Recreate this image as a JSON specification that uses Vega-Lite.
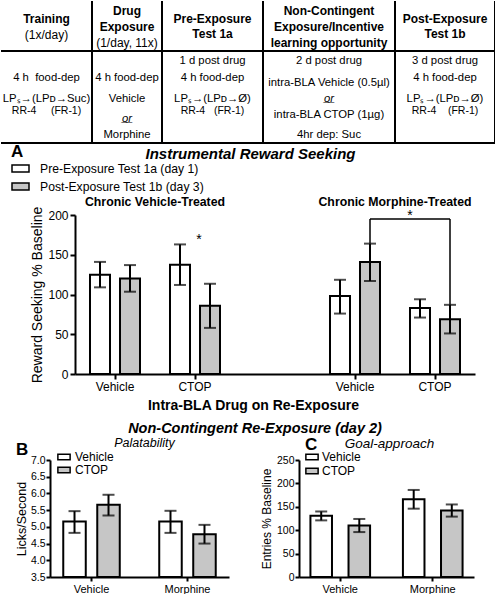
{
"$schema": "https://vega.github.io/schema/vega-lite/v6.json",
"padding": 0,
"spacing": 0,
"resolve": {"scale": {"fill": "independent", "xOffset": "independent"}, "legend": {"fill": "independent"}},
"config": {
  "font": "Liberation Sans",
  "view": {"stroke": null},
  "axis": {"grid": false, "domainColor": "black", "tickColor": "black", "labelColor": "black", "titleColor": "black", "domainWidth": 2, "tickWidth": 2, "titleFontWeight": "normal", "labelOverlap": false, "labelBound": false, "labelFont": "Liberation Sans", "titleFont": "Liberation Sans"},
  "legend": {"labelFont": "Liberation Sans", "titleFont": "Liberation Sans", "labelColor": "black", "titleColor": "black", "padding": 0, "labelLimit": 300},
  "title": {"font": "Liberation Sans", "color": "black"},
  "text": {"color": "black", "font": "Liberation Sans"},
  "rule": {"color": "black"},
  "tick": {"color": "black"},
  "style": {
    "thead": {"fontSize": 12, "fontWeight": "bold"},
    "tnote": {"fontSize": 12},
    "tbody": {"fontSize": 11.3},
    "tcode": {"fontSize": 10.5},
    "tor": {"fontSize": 11.3, "fontStyle": "italic"}
  }
},
"datasets": {
  "table": [
    {"col": "Training", "kind": "head", "line": 1.5, "text": "Training"},
    {"col": "Training", "kind": "note", "line": 2.5, "text": "(1x/day)"},
    {"col": "Training", "kind": "body", "line": 5.1, "text": "4 h\u00a0\u00a0food-dep"},
    {"col": "Training", "kind": "body", "line": 6.4, "text": "LP\u209b\u2192(LP\u1d05\u2192Suc)"},
    {"col": "Training", "kind": "code", "line": 7.15, "text": "RR-4\u00a0\u00a0\u00a0\u00a0\u00a0(FR-1)"},
    {"col": "Drug", "kind": "head", "line": 1, "text": "Drug"},
    {"col": "Drug", "kind": "head", "line": 2, "text": "Exposure"},
    {"col": "Drug", "kind": "note", "line": 3, "text": "(1/day, 11x)"},
    {"col": "Drug", "kind": "body", "line": 5.1, "text": "4 h food-dep"},
    {"col": "Drug", "kind": "body", "line": 6.4, "text": "Vehicle"},
    {"col": "Drug", "kind": "or", "line": 7.6, "text": "o\u0332r\u0332"},
    {"col": "Drug", "kind": "body", "line": 8.6, "text": "Morphine"},
    {"col": "Pre", "kind": "head", "line": 1.5, "text": "Pre-Exposure"},
    {"col": "Pre", "kind": "head", "line": 2.45, "text": "Test 1a"},
    {"col": "Pre", "kind": "body", "line": 4.08, "text": "1 d post drug"},
    {"col": "Pre", "kind": "body", "line": 5.1, "text": "4 h food-dep"},
    {"col": "Pre", "kind": "body", "line": 6.4, "text": "LP\u209b\u2192(LP\u1d05\u2192\u00d8)"},
    {"col": "Pre", "kind": "code", "line": 7.15, "text": "RR-4\u00a0\u00a0\u00a0(FR-1)"},
    {"col": "NonCont", "kind": "head", "line": 1, "text": "Non-Contingent"},
    {"col": "NonCont", "kind": "head", "line": 2, "text": "Exposure/Incentive"},
    {"col": "NonCont", "kind": "head", "line": 3, "text": "learning opportunity"},
    {"col": "NonCont", "kind": "body", "line": 4.08, "text": "2 d post drug"},
    {"col": "NonCont", "kind": "body", "line": 5.4, "text": "intra-BLA Vehicle (0.5\u00b5l)"},
    {"col": "NonCont", "kind": "or", "line": 6.4, "text": "o\u0332r\u0332"},
    {"col": "NonCont", "kind": "body", "line": 7.4, "text": "intra-BLA CTOP (1\u00b5g)"},
    {"col": "NonCont", "kind": "body", "line": 8.6, "text": "4hr dep: Suc"},
    {"col": "Post", "kind": "head", "line": 1.5, "text": "Post-Exposure"},
    {"col": "Post", "kind": "head", "line": 2.45, "text": "Test 1b"},
    {"col": "Post", "kind": "body", "line": 4.08, "text": "3 d post drug"},
    {"col": "Post", "kind": "body", "line": 5.1, "text": "4 h food-dep"},
    {"col": "Post", "kind": "body", "line": 6.4, "text": "LP\u209b\u2192(LP\u1d05\u2192\u00d8)"},
    {"col": "Post", "kind": "code", "line": 7.1, "text": "RR-4\u00a0\u00a0\u00a0\u00a0(FR-1)"}
  ],
  "reward": [
    {"slot": "Vehicle (chronic vehicle)", "test": "Pre-Exposure Test 1a (day 1)", "mean": 125, "lo": 109, "hi": 141},
    {"slot": "Vehicle (chronic vehicle)", "test": "Post-Exposure Test 1b (day 3)", "mean": 120, "lo": 103.5, "hi": 137},
    {"slot": "CTOP (chronic vehicle)", "test": "Pre-Exposure Test 1a (day 1)", "mean": 137.5, "lo": 112, "hi": 163},
    {"slot": "CTOP (chronic vehicle)", "test": "Post-Exposure Test 1b (day 3)", "mean": 86, "lo": 58, "hi": 113.5},
    {"slot": "Vehicle (chronic morphine)", "test": "Pre-Exposure Test 1a (day 1)", "mean": 98, "lo": 76, "hi": 118.5},
    {"slot": "Vehicle (chronic morphine)", "test": "Post-Exposure Test 1b (day 3)", "mean": 141, "lo": 117, "hi": 164},
    {"slot": "CTOP (chronic morphine)", "test": "Pre-Exposure Test 1a (day 1)", "mean": 83, "lo": 71, "hi": 94},
    {"slot": "CTOP (chronic morphine)", "test": "Post-Exposure Test 1b (day 3)", "mean": 69, "lo": 51, "hi": 87}
  ],
  "lick": [
    {"chronic": "Vehicle", "infusion": "Vehicle", "mean": 5.16, "lo": 4.82, "hi": 5.47},
    {"chronic": "Vehicle", "infusion": "CTOP", "mean": 5.66, "lo": 5.34, "hi": 5.96},
    {"chronic": "Morphine", "infusion": "Vehicle", "mean": 5.16, "lo": 4.82, "hi": 5.48},
    {"chronic": "Morphine", "infusion": "CTOP", "mean": 4.78, "lo": 4.5, "hi": 5.06}
  ],
  "goal": [
    {"chronic": "Vehicle", "infusion": "Vehicle", "mean": 131, "lo": 121, "hi": 140},
    {"chronic": "Vehicle", "infusion": "CTOP", "mean": 110, "lo": 96, "hi": 124},
    {"chronic": "Morphine", "infusion": "Vehicle", "mean": 166, "lo": 146, "hi": 186},
    {"chronic": "Morphine", "infusion": "CTOP", "mean": 142, "lo": 129, "hi": 155}
  ]
},
"vconcat": [
  {
    "hconcat": [
      {"width": 91, "height": 142, "data": {"name": "table"}, "transform": [{"filter": "datum.col == 'Training'"}],
       "layer": [
        {"transform": [{"filter": "datum.kind == 'head'"}], "mark": {"type": "text", "style": "thead"}, "encoding": {"y": {"field": "line", "type": "quantitative", "scale": {"domain": [0.42, 9.08], "reverse": true, "nice": false, "zero": false}, "axis": null}, "text": {"field": "text"}}},
        {"transform": [{"filter": "datum.kind == 'note'"}], "mark": {"type": "text", "style": "tnote"}, "encoding": {"y": {"field": "line", "type": "quantitative", "axis": null}, "text": {"field": "text"}}},
        {"transform": [{"filter": "datum.kind == 'body'"}], "mark": {"type": "text", "style": "tbody"}, "encoding": {"y": {"field": "line", "type": "quantitative", "axis": null}, "text": {"field": "text"}}},
        {"transform": [{"filter": "datum.kind == 'code'"}], "mark": {"type": "text", "style": "tcode"}, "encoding": {"y": {"field": "line", "type": "quantitative", "axis": null}, "text": {"field": "text"}}},
        {"transform": [{"filter": "datum.kind == 'or'"}], "mark": {"type": "text", "style": "tor"}, "encoding": {"y": {"field": "line", "type": "quantitative", "axis": null}, "text": {"field": "text"}}},
        {"transform": [{"aggregate": [{"op": "count", "as": "n"}]}], "mark": {"type": "rule", "strokeWidth": 2}, "encoding": {"y": {"datum": 3.47, "axis": null}}},
        {"transform": [{"aggregate": [{"op": "count", "as": "n"}]}], "mark": {"type": "rule", "strokeWidth": 2}, "encoding": {"y": {"datum": 9.08, "axis": null}}},
        {"transform": [{"aggregate": [{"op": "count", "as": "n"}]}], "mark": {"type": "rule", "strokeWidth": 2}, "encoding": {"x": {"datum": 1, "type": "quantitative", "scale": {"domain": [0, 1]}, "axis": null}, "y": {"datum": 0.42, "axis": null}, "y2": {"datum": 9.08}}}
       ]},
      {"width": 70, "height": 142, "data": {"name": "table"}, "transform": [{"filter": "datum.col == 'Drug'"}],
       "layer": [
        {"transform": [{"filter": "datum.kind == 'head'"}], "mark": {"type": "text", "style": "thead"}, "encoding": {"y": {"field": "line", "type": "quantitative", "scale": {"domain": [0.42, 9.08], "reverse": true, "nice": false, "zero": false}, "axis": null}, "text": {"field": "text"}}},
        {"transform": [{"filter": "datum.kind == 'note'"}], "mark": {"type": "text", "style": "tnote"}, "encoding": {"y": {"field": "line", "type": "quantitative", "axis": null}, "text": {"field": "text"}}},
        {"transform": [{"filter": "datum.kind == 'body'"}], "mark": {"type": "text", "style": "tbody"}, "encoding": {"y": {"field": "line", "type": "quantitative", "axis": null}, "text": {"field": "text"}}},
        {"transform": [{"filter": "datum.kind == 'code'"}], "mark": {"type": "text", "style": "tcode"}, "encoding": {"y": {"field": "line", "type": "quantitative", "axis": null}, "text": {"field": "text"}}},
        {"transform": [{"filter": "datum.kind == 'or'"}], "mark": {"type": "text", "style": "tor"}, "encoding": {"y": {"field": "line", "type": "quantitative", "axis": null}, "text": {"field": "text"}}},
        {"transform": [{"aggregate": [{"op": "count", "as": "n"}]}], "mark": {"type": "rule", "strokeWidth": 2}, "encoding": {"y": {"datum": 3.47, "axis": null}}},
        {"transform": [{"aggregate": [{"op": "count", "as": "n"}]}], "mark": {"type": "rule", "strokeWidth": 2}, "encoding": {"y": {"datum": 9.08, "axis": null}}},
        {"transform": [{"aggregate": [{"op": "count", "as": "n"}]}], "mark": {"type": "rule", "strokeWidth": 2}, "encoding": {"x": {"datum": 1, "type": "quantitative", "scale": {"domain": [0, 1]}, "axis": null}, "y": {"datum": 0.42, "axis": null}, "y2": {"datum": 9.08}}}
       ]},
      {"width": 101, "height": 142, "data": {"name": "table"}, "transform": [{"filter": "datum.col == 'Pre'"}],
       "layer": [
        {"transform": [{"filter": "datum.kind == 'head'"}], "mark": {"type": "text", "style": "thead"}, "encoding": {"y": {"field": "line", "type": "quantitative", "scale": {"domain": [0.42, 9.08], "reverse": true, "nice": false, "zero": false}, "axis": null}, "text": {"field": "text"}}},
        {"transform": [{"filter": "datum.kind == 'note'"}], "mark": {"type": "text", "style": "tnote"}, "encoding": {"y": {"field": "line", "type": "quantitative", "axis": null}, "text": {"field": "text"}}},
        {"transform": [{"filter": "datum.kind == 'body'"}], "mark": {"type": "text", "style": "tbody"}, "encoding": {"y": {"field": "line", "type": "quantitative", "axis": null}, "text": {"field": "text"}}},
        {"transform": [{"filter": "datum.kind == 'code'"}], "mark": {"type": "text", "style": "tcode"}, "encoding": {"y": {"field": "line", "type": "quantitative", "axis": null}, "text": {"field": "text"}}},
        {"transform": [{"filter": "datum.kind == 'or'"}], "mark": {"type": "text", "style": "tor"}, "encoding": {"y": {"field": "line", "type": "quantitative", "axis": null}, "text": {"field": "text"}}},
        {"transform": [{"aggregate": [{"op": "count", "as": "n"}]}], "mark": {"type": "rule", "strokeWidth": 2}, "encoding": {"y": {"datum": 3.47, "axis": null}}},
        {"transform": [{"aggregate": [{"op": "count", "as": "n"}]}], "mark": {"type": "rule", "strokeWidth": 2}, "encoding": {"y": {"datum": 9.08, "axis": null}}},
        {"transform": [{"aggregate": [{"op": "count", "as": "n"}]}], "mark": {"type": "rule", "strokeWidth": 2}, "encoding": {"x": {"datum": 1, "type": "quantitative", "scale": {"domain": [0, 1]}, "axis": null}, "y": {"datum": 0.42, "axis": null}, "y2": {"datum": 9.08}}}
       ]},
      {"width": 132, "height": 142, "data": {"name": "table"}, "transform": [{"filter": "datum.col == 'NonCont'"}],
       "layer": [
        {"transform": [{"filter": "datum.kind == 'head'"}], "mark": {"type": "text", "style": "thead"}, "encoding": {"y": {"field": "line", "type": "quantitative", "scale": {"domain": [0.42, 9.08], "reverse": true, "nice": false, "zero": false}, "axis": null}, "text": {"field": "text"}}},
        {"transform": [{"filter": "datum.kind == 'note'"}], "mark": {"type": "text", "style": "tnote"}, "encoding": {"y": {"field": "line", "type": "quantitative", "axis": null}, "text": {"field": "text"}}},
        {"transform": [{"filter": "datum.kind == 'body'"}], "mark": {"type": "text", "style": "tbody"}, "encoding": {"y": {"field": "line", "type": "quantitative", "axis": null}, "text": {"field": "text"}}},
        {"transform": [{"filter": "datum.kind == 'code'"}], "mark": {"type": "text", "style": "tcode"}, "encoding": {"y": {"field": "line", "type": "quantitative", "axis": null}, "text": {"field": "text"}}},
        {"transform": [{"filter": "datum.kind == 'or'"}], "mark": {"type": "text", "style": "tor"}, "encoding": {"y": {"field": "line", "type": "quantitative", "axis": null}, "text": {"field": "text"}}},
        {"transform": [{"aggregate": [{"op": "count", "as": "n"}]}], "mark": {"type": "rule", "strokeWidth": 2}, "encoding": {"y": {"datum": 3.47, "axis": null}}},
        {"transform": [{"aggregate": [{"op": "count", "as": "n"}]}], "mark": {"type": "rule", "strokeWidth": 2}, "encoding": {"y": {"datum": 9.08, "axis": null}}},
        {"transform": [{"aggregate": [{"op": "count", "as": "n"}]}], "mark": {"type": "rule", "strokeWidth": 2}, "encoding": {"x": {"datum": 1, "type": "quantitative", "scale": {"domain": [0, 1]}, "axis": null}, "y": {"datum": 0.42, "axis": null}, "y2": {"datum": 9.08}}}
       ]},
      {"width": 100, "height": 142, "data": {"name": "table"}, "transform": [{"filter": "datum.col == 'Post'"}],
       "layer": [
        {"transform": [{"filter": "datum.kind == 'head'"}], "mark": {"type": "text", "style": "thead"}, "encoding": {"y": {"field": "line", "type": "quantitative", "scale": {"domain": [0.42, 9.08], "reverse": true, "nice": false, "zero": false}, "axis": null}, "text": {"field": "text"}}},
        {"transform": [{"filter": "datum.kind == 'note'"}], "mark": {"type": "text", "style": "tnote"}, "encoding": {"y": {"field": "line", "type": "quantitative", "axis": null}, "text": {"field": "text"}}},
        {"transform": [{"filter": "datum.kind == 'body'"}], "mark": {"type": "text", "style": "tbody"}, "encoding": {"y": {"field": "line", "type": "quantitative", "axis": null}, "text": {"field": "text"}}},
        {"transform": [{"filter": "datum.kind == 'code'"}], "mark": {"type": "text", "style": "tcode"}, "encoding": {"y": {"field": "line", "type": "quantitative", "axis": null}, "text": {"field": "text"}}},
        {"transform": [{"filter": "datum.kind == 'or'"}], "mark": {"type": "text", "style": "tor"}, "encoding": {"y": {"field": "line", "type": "quantitative", "axis": null}, "text": {"field": "text"}}},
        {"transform": [{"aggregate": [{"op": "count", "as": "n"}]}], "mark": {"type": "rule", "strokeWidth": 2}, "encoding": {"y": {"datum": 3.47, "axis": null}}},
        {"transform": [{"aggregate": [{"op": "count", "as": "n"}]}], "mark": {"type": "rule", "strokeWidth": 2}, "encoding": {"y": {"datum": 9.08, "axis": null}}},
        {"transform": [{"aggregate": [{"op": "count", "as": "n"}]}], "mark": {"type": "rule", "strokeWidth": 2}, "encoding": {"x": {"datum": 1, "type": "quantitative", "scale": {"domain": [0, 1]}, "axis": null}, "y": {"datum": 0.42, "axis": null}, "y2": {"datum": 9.08}}}
       ]}
    ],
    "spacing": 0,
    "bounds": "flush"
  },
  {
    "hconcat": [
      {"width": 74, "height": 10, "data": {"values": []}, "mark": "point"},
      {
        "width": 400, "height": 159,
        "data": {"name": "reward"},
        "title": {"text": "Non-Contingent Re-Exposure (day 2)", "orient": "bottom", "anchor": "middle", "fontSize": 14.5, "fontWeight": "bold", "fontStyle": "italic", "dx": -20, "offset": 10},
        "resolve": {"axis": {"x": "independent"}},
        "layer": [
          {"mark": {"type": "bar", "stroke": "black", "strokeWidth": 2},
           "encoding": {
             "x": {"field": "slot", "type": "nominal", "scale": {"domain": ["Vehicle (chronic vehicle)", "CTOP (chronic vehicle)", "-", "Vehicle (chronic morphine)", "CTOP (chronic morphine)"], "paddingInner": 0, "paddingOuter": 0},
                   "axis": {"values": ["Vehicle (chronic vehicle)", "CTOP (chronic vehicle)", "Vehicle (chronic morphine)", "CTOP (chronic morphine)"], "labelExpr": "split(datum.label, ' (')[0]", "labelAngle": 0, "labelFontSize": 12, "tickSize": 5, "labelPadding": 2, "title": "Intra-BLA Drug on Re-Exposure", "titleFontSize": 14, "titleFontWeight": "bold", "titleX": 178, "titlePadding": 6}},
             "xOffset": {"field": "test", "type": "nominal", "scale": {"domain": ["Pre-Exposure Test 1a (day 1)", "Post-Exposure Test 1b (day 3)"], "paddingInner": 0.3333, "paddingOuter": 0.5}},
             "y": {"field": "mean", "type": "quantitative", "scale": {"domain": [0, 200], "nice": false}, "axis": {"tickCount": 5, "labelOverlap": false, "title": "Reward Seeking % Baseline", "titleFontSize": 14, "labelFontSize": 12, "tickSize": 5, "labelPadding": 2, "titlePadding": 3}},
             "fill": {"field": "test", "type": "nominal", "scale": {"domain": ["Pre-Exposure Test 1a (day 1)", "Post-Exposure Test 1b (day 3)"], "range": ["white", "#c6c6c6"]},
                      "legend": {"title": "A", "orient": "none", "legendX": -64, "legendY": -71, "titleFontSize": 17, "titleFontWeight": "bold", "titlePadding": -2, "labelFontSize": 12.2, "symbolType": "M-1,-0.41H1V0.41H-1Z", "symbolSize": 289, "symbolStrokeColor": "black", "symbolStrokeWidth": 1.5, "labelOffset": 10, "rowPadding": 2}}
           }},
          {"mark": {"type": "rule", "strokeWidth": 2},
           "encoding": {"x": {"field": "slot", "type": "nominal", "axis": null}, "xOffset": {"field": "test", "type": "nominal"}, "y": {"field": "lo", "type": "quantitative"}, "y2": {"field": "hi"}}},
          {"mark": {"type": "tick", "size": 12, "thickness": 2},
           "encoding": {"x": {"field": "slot", "type": "nominal", "axis": null}, "xOffset": {"field": "test", "type": "nominal"}, "y": {"field": "hi", "type": "quantitative"}}},
          {"mark": {"type": "tick", "size": 12, "thickness": 2},
           "encoding": {"x": {"field": "slot", "type": "nominal", "axis": null}, "xOffset": {"field": "test", "type": "nominal"}, "y": {"field": "lo", "type": "quantitative"}}},
          {"data": {"values": [{"slot": "CTOP (chronic vehicle)", "sig": "*"}]},
           "mark": {"type": "text", "fontSize": 14},
           "encoding": {"x": {"field": "slot", "type": "nominal", "bandPosition": 0.55, "axis": null}, "y": {"datum": 168}, "text": {"field": "sig"}}},
          {"transform": [{"filter": "datum.test == 'Post-Exposure Test 1b (day 3)' && indexof(datum.slot, 'morphine') > 0"}],
           "mark": {"type": "rule", "strokeWidth": 1.5},
           "encoding": {"x": {"field": "slot", "type": "nominal", "bandPosition": 0.6875, "axis": null}, "y": {"field": "hi", "type": "quantitative"}, "y2": {"datum": 195}}},
          {"data": {"values": [{"from": "Vehicle (chronic morphine)", "to": "CTOP (chronic morphine)"}]},
           "mark": {"type": "rule", "strokeWidth": 1.5},
           "encoding": {"x": {"field": "from", "type": "nominal", "bandPosition": 0.6875, "axis": null}, "x2": {"field": "to", "bandPosition": 0.6875}, "y": {"datum": 195}}},
          {"data": {"values": [{"slot": "CTOP (chronic morphine)", "sig": "*"}]},
           "mark": {"type": "text", "fontSize": 14},
           "encoding": {"x": {"field": "slot", "type": "nominal", "bandPosition": 0.1875, "axis": null}, "y": {"datum": 199}, "text": {"field": "sig"}}},
          {"data": {"values": [{"slot": "Vehicle (chronic vehicle)", "label": "Chronic Vehicle-Treated"}, {"slot": "Vehicle (chronic morphine)", "label": "Chronic Morphine-Treated"}]},
           "mark": {"type": "text", "fontSize": 12.3, "fontWeight": "bold"},
           "encoding": {"x": {"field": "slot", "type": "nominal", "bandPosition": 1,
                              "axis": {"orient": "top", "domain": false, "ticks": false, "labels": false, "title": "Instrumental Reward Seeking", "titleFontSize": 15, "titleFontWeight": "bold", "titleFontStyle": "italic", "titlePadding": 54, "titleX": 175}},
                        "y": {"datum": 216}, "text": {"field": "label"}}}
        ]
      }
    ],
    "spacing": 0,
    "bounds": "flush",
    "resolve": {"scale": {"fill": "independent", "xOffset": "independent"}, "legend": {"fill": "independent"}}
  },
  {
    "hconcat": [
      {"width": 49, "height": 10, "data": {"values": []}, "mark": "point"},
      {
        "width": 179, "height": 117,
        "data": {"name": "lick"},
        "resolve": {"axis": {"x": "independent"}},
        "layer": [
          {"mark": {"type": "bar", "stroke": "black", "strokeWidth": 2},
           "encoding": {
             "x": {"field": "chronic", "type": "nominal", "scale": {"domain": ["Vehicle", "Morphine"], "paddingInner": 0.135, "paddingOuter": 0}, "axis": {"title": null, "labelAngle": 0, "labelFontSize": 11, "tickSize": 4, "labelPadding": 2}},
             "xOffset": {"field": "infusion", "type": "nominal", "scale": {"domain": ["Vehicle", "CTOP"], "paddingInner": 0.338, "paddingOuter": 0.39}},
             "y": {"field": "mean", "type": "quantitative", "scale": {"domain": [3.5, 7], "zero": false, "nice": false}, "axis": {"tickCount": 7, "labelOverlap": false, "format": ".1f", "title": "Licks/Second", "titleFontSize": 12.5, "labelFontSize": 10.5, "tickSize": 4, "labelPadding": 1, "titlePadding": 2}},
             "y2": {"datum": 3.5},
             "fill": {"field": "infusion", "type": "nominal", "scale": {"domain": ["Vehicle", "CTOP"], "range": ["white", "#c6c6c6"]},
                      "legend": {"title": "B", "orient": "none", "legendX": -34, "legendY": -10, "titleOrient": "left", "titleAnchor": "start", "titleBaseline": "middle", "titleAngle": 0, "titlePadding": 28, "titleFontSize": 17, "titleFontWeight": "bold", "labelFontSize": 12, "symbolType": "M-1,-0.45H1V0.45H-1Z", "symbolSize": 150, "symbolStrokeColor": "black", "symbolStrokeWidth": 1.5, "labelOffset": 4, "rowPadding": 0}}
           }},
          {"mark": {"type": "rule", "strokeWidth": 2},
           "encoding": {"x": {"field": "chronic", "type": "nominal", "axis": null}, "xOffset": {"field": "infusion", "type": "nominal"}, "y": {"field": "lo", "type": "quantitative"}, "y2": {"field": "hi"}}},
          {"mark": {"type": "tick", "size": 12, "thickness": 2},
           "encoding": {"x": {"field": "chronic", "type": "nominal", "axis": null}, "xOffset": {"field": "infusion", "type": "nominal"}, "y": {"field": "hi", "type": "quantitative"}}},
          {"mark": {"type": "tick", "size": 12, "thickness": 2},
           "encoding": {"x": {"field": "chronic", "type": "nominal", "axis": {"orient": "top", "domain": false, "ticks": false, "labels": false, "title": "Palatability", "titleFontSize": 12.5, "titleFontStyle": "italic", "titlePadding": 11, "titleX": 94}}, "xOffset": {"field": "infusion", "type": "nominal"}, "y": {"field": "lo", "type": "quantitative"}}}
        ]
      },
      {"width": 70, "height": 10, "data": {"values": []}, "mark": "point"},
      {
        "width": 175, "height": 117,
        "data": {"name": "goal"},
        "resolve": {"axis": {"x": "independent"}},
        "layer": [
          {"mark": {"type": "bar", "stroke": "black", "strokeWidth": 2},
           "encoding": {
             "x": {"field": "chronic", "type": "nominal", "scale": {"domain": ["Vehicle", "Morphine"], "paddingInner": 0.108, "paddingOuter": 0}, "axis": {"title": null, "labelAngle": 0, "labelFontSize": 11, "tickSize": 4, "labelPadding": 2}},
             "xOffset": {"field": "infusion", "type": "nominal", "scale": {"domain": ["Vehicle", "CTOP"], "paddingInner": 0.434, "paddingOuter": 0.3}},
             "y": {"field": "mean", "type": "quantitative", "scale": {"domain": [0, 250], "nice": false}, "axis": {"tickCount": 5, "labelOverlap": false, "title": "Entries % Baseline", "titleFontSize": 12, "labelFontSize": 10.5, "tickSize": 4, "labelPadding": 1, "titlePadding": 3}},
             "fill": {"field": "infusion", "type": "nominal", "scale": {"domain": ["Vehicle", "CTOP"], "range": ["white", "#c6c6c6"]},
                      "legend": {"title": "C", "orient": "none", "legendX": 6, "legendY": -23, "titlePadding": -4, "titleFontSize": 17, "titleFontWeight": "bold", "labelFontSize": 12, "symbolType": "M-1,-0.45H1V0.45H-1Z", "symbolSize": 150, "symbolStrokeColor": "black", "symbolStrokeWidth": 1.5, "labelOffset": 3, "rowPadding": 1}}
           }},
          {"mark": {"type": "rule", "strokeWidth": 2},
           "encoding": {"x": {"field": "chronic", "type": "nominal", "axis": null}, "xOffset": {"field": "infusion", "type": "nominal"}, "y": {"field": "lo", "type": "quantitative"}, "y2": {"field": "hi"}}},
          {"mark": {"type": "tick", "size": 12, "thickness": 2},
           "encoding": {"x": {"field": "chronic", "type": "nominal", "axis": null}, "xOffset": {"field": "infusion", "type": "nominal"}, "y": {"field": "hi", "type": "quantitative"}}},
          {"mark": {"type": "tick", "size": 12, "thickness": 2},
           "encoding": {"x": {"field": "chronic", "type": "nominal", "axis": {"orient": "top", "domain": false, "ticks": false, "labels": false, "title": "Goal-approach", "titleFontSize": 13.5, "titleFontStyle": "italic", "titlePadding": 10, "titleX": 90}}, "xOffset": {"field": "infusion", "type": "nominal"}, "y": {"field": "lo", "type": "quantitative"}}}
        ]
      }
    ],
    "spacing": 0,
    "bounds": "flush",
    "resolve": {"scale": {"fill": "independent", "xOffset": "independent"}, "legend": {"fill": "independent"}}
  }
]
}
